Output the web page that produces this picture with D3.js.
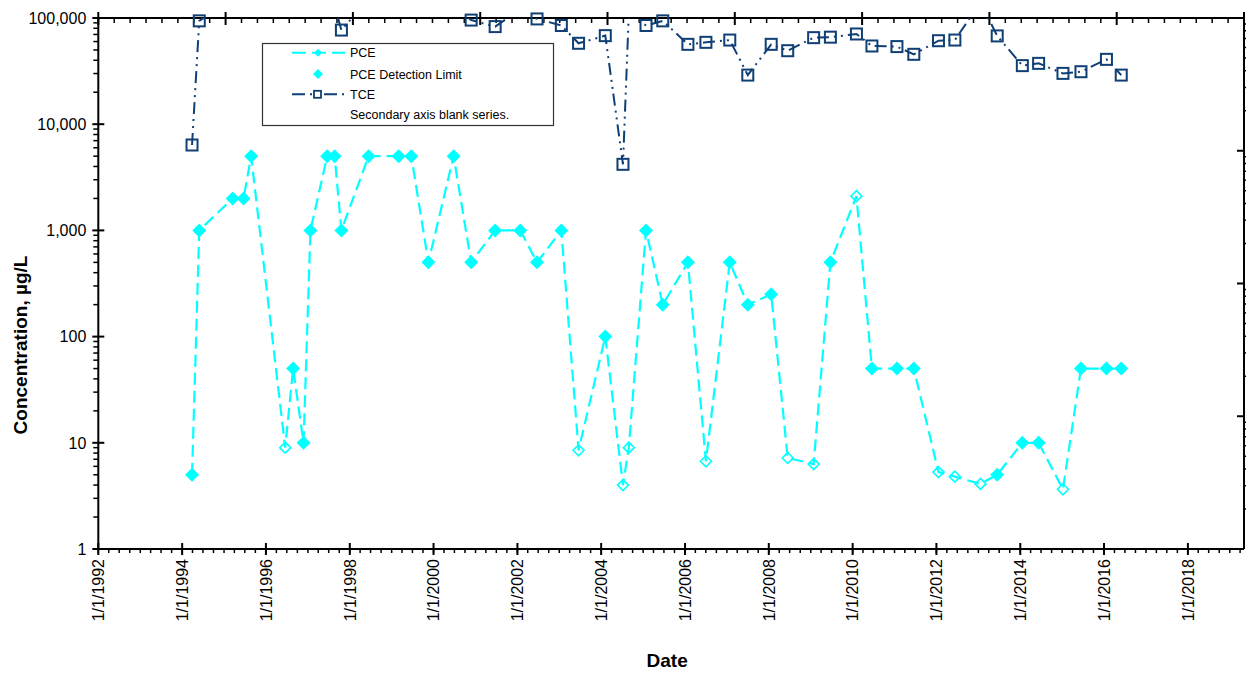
<!DOCTYPE html>
<html><head><meta charset="utf-8">
<script src="https://cdn.jsdelivr.net/npm/d3@7"></script>
<style>body{margin:0;background:#fff}svg{display:block}text{font-family:Arial,"Liberation Sans",sans-serif}</style>
</head><body>
<svg id="c" width="1246" height="675"></svg>
<script>
// ---- DATA ----
const pceDates = ["1994-03-28","1994-05-30","1995-03-17","1995-06-20","1995-08-25","1996-06-17","1996-08-25","1996-11-24","1997-01-23","1997-06-18","1997-08-22","1997-10-20","1998-06-14","1999-03-03","1999-06-21","1999-11-17","2000-06-24","2000-11-24","2001-06-21","2002-01-26","2002-06-21","2003-01-19","2003-06-18","2004-02-06","2004-07-09","2004-08-29","2005-01-26","2005-06-21","2006-01-26","2006-07-02","2007-01-26","2007-07-02","2008-01-22","2008-06-14","2009-01-26","2009-06-21","2010-02-03","2010-06-18","2011-01-22","2011-06-18","2012-01-19","2012-06-10","2013-01-19","2013-06-14","2014-01-19","2014-06-10","2015-01-08","2015-06-14","2016-01-22","2016-05-30"];
const pceValues = [5,1000,2000,2000,5000,9,50,10,1000,5000,5000,1000,5000,5000,5000,500,5000,500,1000,1000,500,1000,8.5,100,4,9,1000,200,500,6.7,500,200,250,7.2,6.3,500,2100,50,50,50,5.3,4.8,4.1,5,10,10,3.65,50,50,50];
// 1 = result reported at detection limit (filled diamond), 0 = detected (open diamond)
const pceAtDetectionLimit = [1,1,1,1,1,0,1,1,1,1,1,1,1,1,1,1,1,1,1,1,1,1,0,1,0,0,1,1,1,0,1,1,1,0,0,1,0,1,1,1,0,0,0,1,1,1,0,1,1,1];
const tceDates = ["1994-03-28","1994-05-30","1995-03-17","1997-08-22","1997-10-20","1998-06-14","2000-06-24","2000-11-24","2001-06-21","2002-01-26","2002-06-21","2003-01-19","2003-06-18","2004-02-06","2004-07-09","2004-08-29","2005-01-26","2005-06-21","2006-01-26","2006-07-02","2007-01-26","2007-07-02","2008-01-22","2008-06-14","2009-01-26","2009-06-21","2010-02-03","2010-06-18","2011-01-22","2011-06-18","2012-01-19","2012-06-10","2013-01-19","2013-06-14","2014-01-19","2014-06-10","2015-01-08","2015-06-14","2016-01-22","2016-05-30"];
const tceValues = [6370,94000,150000,130000,77000,150000,130000,95600,83000,120000,98000,85000,57800,68200,4190,110000,85000,94000,56500,59000,62000,29000,56500,49200,65300,66000,70700,54500,53800,45500,61100,62000,140000,67800,35600,37400,30100,31200,40800,29000];
const yTickValues = [1,10,100,1000,10000,100000];
const legendLabels = ["PCE","PCE Detection Limit","TCE","Secondary axis blank series."];

// ---- LAYOUT ----
const L=98.3, R=1244, T=18, B=549;
const PCE_COLOR="#00FFFF", TCE_COLOR="#0f3f74";
const svg=d3.select("#c");
const parse=d3.timeParse("%Y-%m-%d");
const x=d3.scaleTime().domain([new Date(1992,0,1),new Date(2019,4,5)]).range([L,R]);
const y=d3.scaleLog().domain([1,100000]).range([B,T]);
const yR=d3.scaleLog().domain([1,10000]).range([B,T]);
const xTop=d3.scaleLinear().domain([0,9]).range([L,R]);

svg.append("defs").append("clipPath").attr("id","clip").append("rect")
  .attr("x",L).attr("y",T).attr("width",R-L).attr("height",B-T);

const ax=svg.append("g").attr("stroke","#000").attr("fill","none");
// frame
ax.append("line").attr("x1",L).attr("x2",L).attr("y1",T).attr("y2",B).attr("stroke-width",2);
ax.append("line").attr("x1",R).attr("x2",R).attr("y1",T).attr("y2",B).attr("stroke-width",2);
ax.append("line").attr("x1",L).attr("x2",R).attr("y1",B).attr("y2",B).attr("stroke-width",2);
ax.append("line").attr("x1",L).attr("x2",R).attr("y1",T).attr("y2",T).attr("stroke-width",2);

// left axis ticks
const leftMinor=y.ticks().filter(v=>yTickValues.indexOf(v)<0);
leftMinor.forEach(v=>ax.append("line").attr("x1",L-5).attr("x2",L).attr("y1",y(v)).attr("y2",y(v)).attr("stroke-width",1.5));
yTickValues.forEach(v=>ax.append("line").attr("x1",L-6).attr("x2",L+6).attr("y1",y(v)).attr("y2",y(v)).attr("stroke-width",2));
const fmt=d3.format(",");
svg.append("g").selectAll("text").data(yTickValues).join("text")
  .attr("x",L-12).attr("y",d=>y(d)).attr("dy","0.36em").attr("text-anchor","end")
  .attr("font-size",16).text(d=>fmt(d));

// right axis ticks
const rMajor=[1,10,100,1000,10000];
yR.ticks().filter(v=>rMajor.indexOf(v)<0).forEach(v=>ax.append("line").attr("x1",R).attr("x2",R+4).attr("y1",yR(v)).attr("y2",yR(v)).attr("stroke-width",1.5));
rMajor.forEach(v=>ax.append("line").attr("x1",R-7).attr("x2",R).attr("y1",yR(v)).attr("y2",yR(v)).attr("stroke-width",2));

// bottom axis ticks
const xMinor=x.ticks(d3.timeMonth.every(3));
xMinor.forEach(d=>ax.append("line").attr("x1",x(d)).attr("x2",x(d)).attr("y1",B).attr("y2",B+4).attr("stroke-width",1.5));
const xMajor=x.ticks(d3.timeYear.every(2));
xMajor.forEach(d=>ax.append("line").attr("x1",x(d)).attr("x2",x(d)).attr("y1",B-6).attr("y2",B+6).attr("stroke-width",2));
const dfmt=d3.timeFormat("%-m/%-d/%Y");
svg.append("g").selectAll("text").data(xMajor).join("text")
  .attr("transform",d=>`translate(${x(d)},${B+10}) rotate(-90)`)
  .attr("dy","0.36em").attr("text-anchor","end").attr("font-size",16).text(d=>dfmt(d));

// top axis ticks
d3.range(0,9.001,1/8).forEach(v=>{
  const isMajor=Math.abs(v-Math.round(v))<1e-6;
  ax.append("line").attr("x1",xTop(v)).attr("x2",xTop(v))
    .attr("y1",isMajor?T-6:T).attr("y2",isMajor?T+7:T+5).attr("stroke-width",isMajor?2:1.5);
});

// titles
svg.append("text").attr("x",(L+R)/2-4).attr("y",667).attr("text-anchor","middle")
  .attr("font-size",19).attr("font-weight","bold").text("Date");
svg.append("text").attr("transform","translate(27,345) rotate(-90)").attr("text-anchor","middle")
  .attr("font-size",19).attr("font-weight","bold").text("Concentration, µg/L");

// ---- SERIES ----
const pce=pceDates.map((d,i)=>({date:parse(d),v:pceValues[i],nd:pceAtDetectionLimit[i]}));
const tce=tceDates.map((d,i)=>({date:parse(d),v:tceValues[i]}));
const line=d3.line().x(d=>x(d.date)).y(d=>y(d.v));
const plot=svg.append("g");
plot.append("path").datum(tce).attr("clip-path","url(#clip)").attr("d",line)
  .attr("fill","none").attr("stroke",TCE_COLOR).attr("stroke-width",2).attr("stroke-dasharray","12,5,2,5,2,5");
plot.append("path").datum(pce).attr("clip-path","url(#clip)").attr("d",line)
  .attr("fill","none").attr("stroke",PCE_COLOR).attr("stroke-width",2.2).attr("stroke-dasharray","12,6");

const diamond=(s)=>`M0,${-s}L${s},0L0,${s}L${-s},0Z`;
plot.selectAll("path.tce").data(tce.filter(d=>d.v<=100000)).join("rect").attr("class","tce")
  .attr("x",d=>x(d.date)-5.5).attr("y",d=>y(d.v)-5.5).attr("width",11).attr("height",11)
  .attr("fill","none").attr("stroke",TCE_COLOR).attr("stroke-width",2);
plot.selectAll("path.det").data(pce.filter(d=>!d.nd)).join("path").attr("class","det")
  .attr("transform",d=>`translate(${x(d.date)},${y(d.v)})`).attr("d",diamond(5.5))
  .attr("fill","none").attr("stroke",PCE_COLOR).attr("stroke-width",1.6);
plot.selectAll("path.nd").data(pce.filter(d=>d.nd)).join("path").attr("class","nd")
  .attr("transform",d=>`translate(${x(d.date)},${y(d.v)})`).attr("d",diamond(7))
  .attr("fill",PCE_COLOR).attr("stroke","none");

// ---- LEGEND ----
const lg=svg.append("g");
lg.append("rect").attr("x",262.5).attr("y",43.5).attr("width",291).attr("height",82)
  .attr("fill","#fff").attr("stroke","#333").attr("stroke-width",1.2);
const rows=[52.7,74,94.3,114.3];
lg.selectAll("text").data(legendLabels).join("text").attr("x",350).attr("y",(d,i)=>rows[i])
  .attr("dy","0.36em").attr("font-size",12.5).text(d=>d);
lg.append("line").attr("x1",292).attr("x2",345).attr("y1",rows[0]).attr("y2",rows[0])
  .attr("stroke",PCE_COLOR).attr("stroke-width",2).attr("stroke-dasharray","14,6");
lg.append("path").attr("transform",`translate(318,${rows[0]})`).attr("d",diamond(4)).attr("fill",PCE_COLOR);
lg.append("path").attr("transform",`translate(318,${rows[1]})`).attr("d",diamond(5)).attr("fill",PCE_COLOR);
lg.append("line").attr("x1",292).attr("x2",345).attr("y1",rows[2]).attr("y2",rows[2])
  .attr("stroke",TCE_COLOR).attr("stroke-width",2).attr("stroke-dasharray","13,5,2,5,2,5");
lg.append("rect").attr("x",314).attr("y",rows[2]-3.5).attr("width",7).attr("height",7)
  .attr("fill","#fff").attr("stroke",TCE_COLOR).attr("stroke-width",1.8);
</script>
</body></html>
